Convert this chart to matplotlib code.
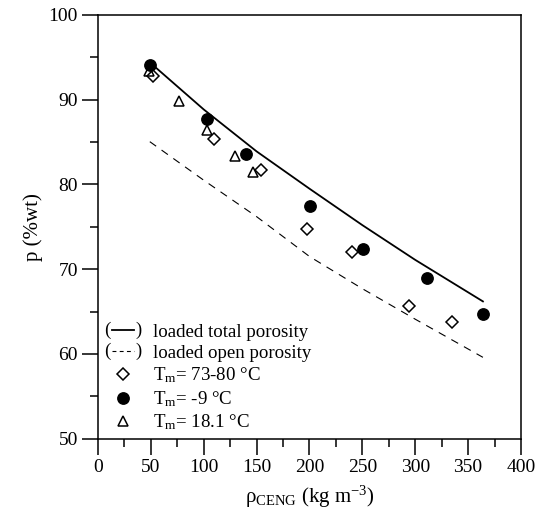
import numpy as np
import matplotlib
matplotlib.use("Agg")
import matplotlib.pyplot as plt
from matplotlib.lines import Line2D
from matplotlib.text import Text
from matplotlib.legend_handler import HandlerLine2D

plt.rcParams['font.family'] = ['Liberation Serif', 'DejaVu Serif']
plt.rcParams['mathtext.fontset'] = 'custom'
plt.rcParams['mathtext.rm'] = 'Liberation Serif'
plt.rcParams['mathtext.it'] = 'Liberation Serif:italic'

# measured porosity, three melt temperatures
rho_hot = [52, 109.4, 153.8, 197.6, 240.3, 294.1, 335.1]
p_hot = [92.84, 85.4, 81.7, 74.75, 72.0, 65.7, 63.75]

rho_cold = [48.9, 103.4, 140.3, 200.5, 250.3, 311.0, 363.8]
p_cold = [94.06, 87.76, 83.57, 77.47, 72.33, 69.02, 64.75]

rho_mid = [48.3, 76.6, 103.0, 129.6, 147.0]
p_mid = [93.4, 89.9, 86.4, 83.3, 81.45]

# model curves
rho_model = [50, 100, 150, 200, 250, 300, 364]
p_total = [94.3, 88.85, 83.9, 79.5, 75.2, 71.1, 66.2]
rho_open = [49, 100, 150, 200, 250, 300, 364]
p_open = [85.05, 80.5, 76.2, 71.5, 67.7, 64.1, 59.6]


class ParenHandler(HandlerLine2D):
    """short line sample wrapped in parentheses"""
    def __init__(self, dashes=None, **kw):
        super().__init__(**kw)
        self.dashes = dashes

    def create_artists(self, legend, orig_handle, xdescent, ydescent,
                       width, height, fontsize, trans):
        y = (height - ydescent) / 2
        pad = 0.42 * fontsize
        line = Line2D([-xdescent + pad, -xdescent + width - pad], [y, y])
        self.update_prop(line, orig_handle, legend)
        if self.dashes is not None:
            line.set_dashes(self.dashes)
        line.set_transform(trans)
        lp = Text(-xdescent, y, '(', ha='left', va='center',
                  fontsize=fontsize, transform=trans)
        rp = Text(-xdescent + width, y, ')', ha='right', va='center',
                  fontsize=fontsize, transform=trans)
        return [line, lp, rp]


fig = plt.figure(figsize=(5.39, 5.22), dpi=100)
ax = fig.add_axes([0.1818, 0.1596, 0.7848, 0.8117])

l_tot, = ax.plot(rho_model, p_total, color='black', lw=1.3)
l_open, = ax.plot(rho_open, p_open, color='black', lw=0.8, dashes=(7, 6))
m_hot, = ax.plot(rho_hot, p_hot, ls='none', marker='D', ms=6.3,
                 mfc='white', mec='black', mew=1.1)
m_cold, = ax.plot(rho_cold, p_cold, ls='none', marker='o', ms=8.2,
                  mfc='black', mec='black')
m_mid, = ax.plot(rho_mid, p_mid, ls='none', marker='^', ms=7.5,
                 mfc='none', mec='black', mew=1.1)

ax.set_xlim(0, 400)
ax.set_ylim(50, 100)
ax.set_xticks(np.arange(0, 401, 50))
ax.set_xticks(np.arange(25, 400, 50), minor=True)
ax.set_yticks(np.arange(50, 101, 10))
ax.set_yticks(np.arange(55, 100, 10), minor=True)
ax.tick_params(which='both', direction='out', width=1.1, labelsize=14,
               top=False, right=False)
ax.tick_params(which='major', length=11.5, pad=3)
ax.tick_params(which='minor', length=6)
for s in ax.spines.values():
    s.set_linewidth(1.1)

ax.set_xlabel(r'ρ$_{\mathrm{CENG}}$ (kg m$^{\mathrm{-3}}$)', fontsize=15, labelpad=6)
ax.set_ylabel('p (%wt)', fontsize=15, labelpad=4)

ax.legend([l_tot, l_open, m_hot, m_cold, m_mid],
          ['loaded total porosity', 'loaded open porosity',
           r'T$_{\mathrm{m}}$= 73-80 °C', r'T$_{\mathrm{m}}$= -9 °C',
           r'T$_{\mathrm{m}}$= 18.1 °C'],
          handler_map={l_tot: ParenHandler(),
                       l_open: ParenHandler(dashes=(3.5, 3))},
          loc='lower left', bbox_to_anchor=(-0.012, -0.012), frameon=False,
          fontsize=13.6, handlelength=2.0, handletextpad=0.6,
          labelspacing=0.2, borderpad=0.1)

fig.savefig('out.png', dpi=100)
